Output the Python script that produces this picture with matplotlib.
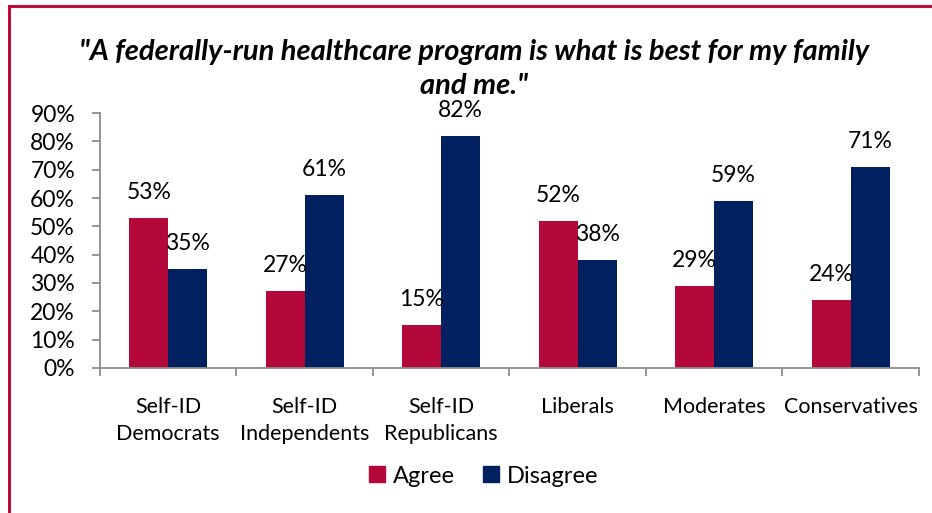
import matplotlib
matplotlib.use("Agg")
import matplotlib.pyplot as plt
import numpy as np
from matplotlib.lines import Line2D
from matplotlib.ticker import MultipleLocator, PercentFormatter

categories = ["Self-ID\nDemocrats", "Self-ID\nIndependents", "Self-ID\nRepublicans",
              "Liberals", "Moderates", "Conservatives"]
agree = [53, 27, 15, 52, 29, 24]
disagree = [35, 61, 82, 38, 59, 71]
title = '"A federally-run healthcare program is what is best for my family\nand me."'

red = "#B5083A"
navy = "#002060"
border = "#C00A3C"
axis_gray = "#8C8C8C"

plt.rcParams['font.family'] = ['Lato', 'DejaVu Sans']

fig = plt.figure(figsize=(9.32, 5.13), dpi=100)
ax = fig.add_axes([0.1073, 0.2827, 0.986 - 0.1073, 0.7797 - 0.2827])

x = np.arange(len(categories))
w = 0.285
ax.bar(x - w / 2, agree, w, color=red, label="Agree")
ax.bar(x + w / 2, disagree, w, color=navy, label="Disagree")

for xi, v in zip(x, agree):
    ax.annotate(f"{v}%", (xi - w / 2, v), xytext=(0, 13.7), textcoords="offset points",
                ha="center", va="baseline", fontsize=16.5)
for xi, v in zip(x, disagree):
    ax.annotate(f"{v}%", (xi + w / 2, v), xytext=(0, 13.7), textcoords="offset points",
                ha="center", va="baseline", fontsize=16.5)

ax.set_ylim(0, 90)
ax.set_xlim(-0.5, len(categories) - 0.5)
ax.yaxis.set_major_locator(MultipleLocator(10))
ax.yaxis.set_major_formatter(PercentFormatter(decimals=0))
ax.set_xticks(np.arange(len(categories) + 1) - 0.5)
ax.set_xticklabels([])
ax.tick_params(axis="x", length=6, color=axis_gray, width=1.3, direction="out")
ax.tick_params(axis="y", length=6, color=axis_gray, width=1.3, direction="out",
               labelsize=16.5, pad=12)
for xi, c in zip(x, categories):
    ax.annotate(c, (xi, 0), xytext=(0, -21), textcoords="offset points",
                ha="center", va="top", fontsize=15.5, linespacing=1.45)

for s in ["top", "right"]:
    ax.spines[s].set_visible(False)
for s in ["left", "bottom"]:
    ax.spines[s].set_color(axis_gray)
    ax.spines[s].set_linewidth(1.3)

fig.text(0.509, 0.866, title, ha="center", va="center", fontsize=21,
         fontweight="bold", fontstyle="italic", linespacing=1.4)

handles = [Line2D([], [], marker="s", linestyle="none", markersize=11, color=red),
           Line2D([], [], marker="s", linestyle="none", markersize=11, color=navy)]
fig.legend(handles, ["Agree", "Disagree"], loc="center", bbox_to_anchor=(0.5156, 0.072),
           ncol=2, frameon=False, fontsize=17, handletextpad=0.1, columnspacing=0.9,
           handlelength=1.2)

fig.add_artist(Line2D([0.0099, 0.0099], [0, 0.988], transform=fig.transFigure,
                      color=border, linewidth=2.2))
fig.add_artist(Line2D([0.0099, 1.0], [0.988, 0.988], transform=fig.transFigure,
                      color=border, linewidth=2.2))

fig.savefig("out.png", dpi=100)
